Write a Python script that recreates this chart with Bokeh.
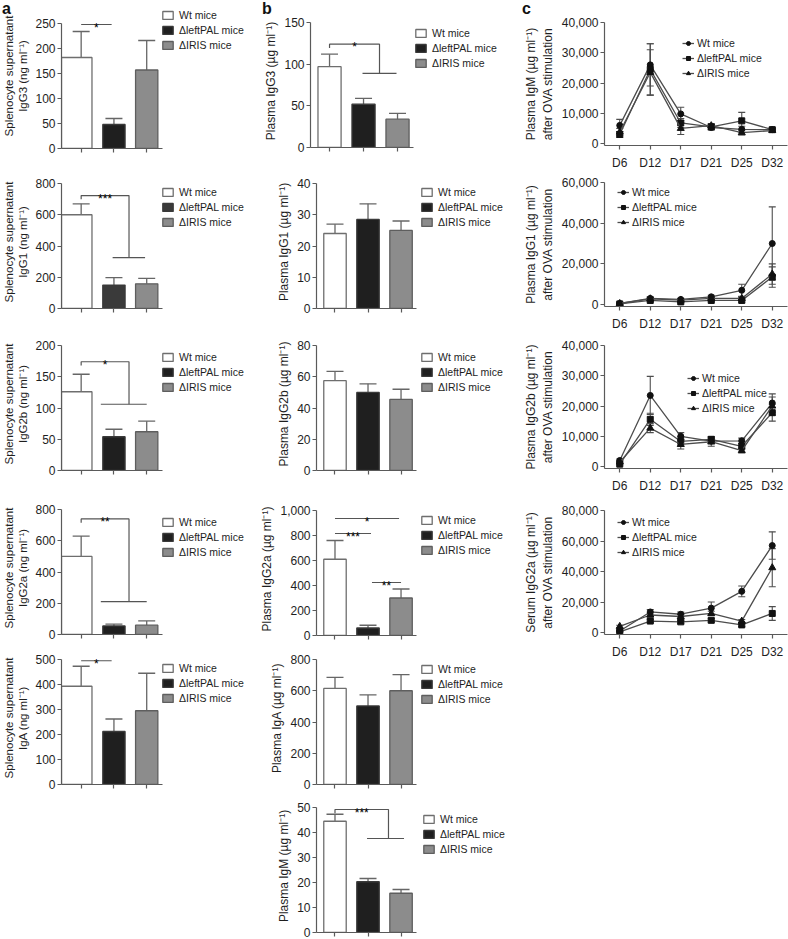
from bokeh.plotting import figure
from bokeh.layouts import column, row
from bokeh.models import (Legend, LegendItem, FixedTicker, Range1d, FactorRange, GridBox, Div,
                          NumeralTickFormatter, ColumnDataSource, Whisker, TeeHead)
from bokeh.embed import file_html
from bokeh.resources import INLINE
from bokeh.core.properties import value

FONT = "Liberation Sans"
TXT = "#1e1e1e"
AX = "#5a5a5a"
ERR = "#666666"
BR = "#555555"

groups = ["Wt mice", "\u0394leftPAL mice", "\u0394IRIS mice"]
days = ["D6", "D12", "D17", "D21", "D25", "D32"]

# ---------------- panel a : splenocyte supernatant (ng ml-1)
a_igg3_mean = [182, 48, 157]
a_igg3_err = [52, 12, 59]
a_igg1_mean = [600, 150, 158]
a_igg1_err = [70, 48, 35]
a_igg2b_mean = [126, 54, 62]
a_igg2b_err = [28, 12, 17]
a_igg2a_mean = [500, 55, 60]
a_igg2a_err = [130, 12, 27]
a_iga_mean = [393, 212, 295]
a_iga_err = [80, 50, 150]

# ---------------- panel b : plasma (ug ml-1)
b_igg3_mean = [97, 52, 34]
b_igg3_err = [15, 7, 7]
b_igg1_mean = [24, 28.5, 25]
b_igg1_err = [3, 5, 3]
b_igg2b_mean = [57.5, 50, 45.5]
b_igg2b_err = [6, 5.5, 6.5]
b_igg2a_mean = [610, 60, 300]
b_igg2a_err = [150, 22, 72]
b_iga_mean = [615, 503, 600]
b_iga_err = [70, 70, 103]
b_igm_mean = [44.5, 20.3, 15.7]
b_igm_err = [2.8, 1.3, 1.5]

# ---------------- panel c : time course after OVA stimulation
c_igm_wt = [6000, 26000, 9800, 5300, 4700, 4600]
c_igm_wt_err = [2000, 7000, 2200, 800, 1000, 500]
c_igm_lp = [3000, 24500, 6800, 5500, 7500, 4600]
c_igm_lp_err = [1000, 8500, 1500, 800, 2800, 600]
c_igm_ir = [3800, 23500, 5000, 5900, 3600, 4300]
c_igm_ir_err = [1200, 7500, 2000, 700, 800, 500]

c_igg1_wt = [500, 3000, 2500, 3800, 7000, 30000]
c_igg1_wt_err = [300, 800, 600, 800, 3000, 18000]
c_igg1_lp = [300, 2000, 1300, 2000, 2000, 13500]
c_igg1_lp_err = [200, 600, 500, 600, 800, 5000]
c_igg1_ir = [500, 2800, 2200, 3000, 3000, 15000]
c_igg1_ir_err = [200, 700, 600, 700, 900, 5000]

c_igg2b_wt = [2000, 23500, 10000, 8400, 8500, 21000]
c_igg2b_wt_err = [500, 6300, 1200, 900, 900, 3000]
c_igg2b_lp = [800, 15600, 8300, 9000, 6700, 17800]
c_igg2b_lp_err = [300, 2000, 1500, 900, 1000, 2800]
c_igg2b_ir = [1500, 12700, 7300, 8200, 5300, 20000]
c_igg2b_ir_err = [400, 1500, 1500, 1500, 800, 3000]

c_igg2a_wt = [1000, 13500, 12000, 16000, 27000, 57000]
c_igg2a_wt_err = [500, 1500, 1500, 4000, 3500, 9000]
c_igg2a_lp = [500, 7500, 7000, 8000, 5000, 12500]
c_igg2a_lp_err = [300, 1000, 1000, 1200, 1000, 4500]
c_igg2a_ir = [4000, 11500, 10500, 12500, 7500, 42500]
c_igg2a_ir_err = [800, 1500, 1500, 1500, 1000, 12500]

# ---------------- styling
BAR_FILL = ["#ffffff", "#1f1f1f", "#8c8c8c"]
BAR_LINE = ["#6e6e6e", "#3a3a3a", "#5e5e5e"]
FRAME_H = 125
C_FH = 124
MARKERS = ["circle", "square", "triangle"]
MSIZE = [6, 6, 7]


def style_axis(ax, size="12px"):
    ax.axis_line_color = AX
    ax.axis_line_width = 1.2
    ax.major_tick_line_color = AX
    ax.major_tick_line_width = 1.2
    ax.major_tick_out = 4
    ax.major_tick_in = 0
    ax.minor_tick_line_color = None
    ax.major_label_text_font = FONT
    ax.major_label_text_font_size = size
    ax.major_label_text_color = TXT
    ax.axis_label_text_font = FONT
    ax.axis_label_text_font_style = "normal"
    ax.axis_label_text_color = TXT


def draw_brackets(p, brackets, ymax):
    if not brackets:
        return
    drop = ymax * 0.03
    xs, ys, tx, ty, tt = [], [], [], [], []
    for b in brackets:
        if b[0] == "pair":
            _, x0, x1, y, t = b
            xs.append([x0, x1]); ys.append([y, y])
            tx.append((x0 + x1) / 2); ty.append(y); tt.append(t)
        else:
            _, ytop, xend, yg, g0, g1, t = b
            xs.append([0, 0, xend, xend]); ys.append([ytop - drop, ytop, ytop, yg])
            xs.append([g0, g1]); ys.append([yg, yg])
            tx.append(xend / 2); ty.append(ytop); tt.append(t)
    p.multi_line(xs=xs, ys=ys, line_color=BR, line_width=1.2)
    p.text(x=tx, y=ty, text=tt, text_align="center", text_baseline="alphabetic", y_offset=3,
           text_font=value(FONT), text_font_size="12px", text_color="#000000",
           text_font_style="normal")


def legend_for(p, items, lx, row1, glyph_w, standoff, frame_h):
    row_h, spacing = 13, 2
    total = 3 * row_h + 2 * spacing
    ly = frame_h - (row1 - row_h / 2) - total
    leg = Legend(items=items, location=(lx, ly), orientation="vertical",
                 glyph_width=glyph_w, glyph_height=10, label_height=row_h, label_standoff=standoff,
                 spacing=spacing, padding=0, margin=0, border_line_color=None,
                 background_fill_alpha=0, label_text_font=FONT, label_text_font_size="10.5px",
                 label_text_color=TXT)
    p.add_layout(leg)


def with_letter(p, letter, dx):
    d = Div(text=letter, margin=(0, 0, 0, dx), width=14, height=20,
            styles={"font-family": FONT, "font-weight": "bold", "font-size": "16px",
                    "color": "#111111", "line-height": "1.15"})
    return GridBox(children=[(p, 0, 0), (d, 0, 0)])


def bar_panel(means, errs, ymax, ystep, ylabel, width, left, height, axis_top, ext,
              legend_x, legend_row1, brackets, shifts, widths, label_size, xr,
              fills=BAR_FILL):
    ppu = 103 / (xr[1] - xr[0])
    frame_w = width - left
    y_end = ymax * (FRAME_H + ext) / FRAME_H
    p = figure(width=width, height=height,
               x_range=Range1d(xr[0], xr[0] + frame_w / ppu), y_range=Range1d(0, y_end),
               output_backend="svg", toolbar_location=None,
               min_border_left=left, min_border_right=0,
               min_border_top=axis_top - ext, min_border_bottom=height - axis_top - FRAME_H)
    p.grid.visible = False
    p.outline_line_color = None
    xs = [0, 1, 2]
    src = ColumnDataSource(dict(x=[xs[i] + shifts[i] for i in range(3)], w=widths, top=means,
                                fill=fills, line=BAR_LINE))
    r = p.vbar(x="x", width="w", top="top", bottom=0, fill_color="fill", line_color="line",
               line_width=1.3, source=src)
    esrc = ColumnDataSource(dict(x=xs, lo=means, hi=[m + e for m, e in zip(means, errs)]))
    p.add_layout(Whisker(base="x", lower="lo", upper="hi", source=esrc, dimension="height",
                         line_color=ERR, line_width=1.3, lower_head=None,
                         upper_head=TeeHead(size=17, line_color=ERR, line_width=1.3)))
    draw_brackets(p, brackets, ymax)
    style_axis(p.xaxis[0])
    style_axis(p.yaxis[0])
    p.xaxis.ticker = FixedTicker(ticks=xs)
    p.xaxis.bounds = (xr[0], xr[1])
    p.xaxis.major_label_text_font_size = "1px"
    p.xaxis.major_label_text_alpha = 0
    p.xaxis.major_label_standoff = 0
    p.yaxis.ticker = FixedTicker(ticks=list(range(0, ymax + 1, ystep)))
    p.yaxis.bounds = (0, ymax)
    p.yaxis.formatter = NumeralTickFormatter(format="0,0")
    p.yaxis.major_label_standoff = 2
    p.yaxis.axis_label = ylabel
    p.yaxis.axis_label_standoff = 3
    p.yaxis.axis_label_text_font_size = label_size
    items = [LegendItem(label=groups[i], renderers=[r], index=i) for i in range(3)]
    legend_for(p, items, legend_x, legend_row1, 13, 5, FRAME_H)
    return p


def line_panel(series, errs, ymax, ystep, ylabel, height, axis_top, legend_x, legend_row1):
    width, left, right = 268, 77, 1
    ext_b = ymax * 2 / C_FH
    p = figure(width=width, height=height, x_range=FactorRange(*days),
               y_range=Range1d(-ext_b, ymax), output_backend="svg", toolbar_location=None,
               min_border_left=left, min_border_right=right, min_border_top=axis_top,
               min_border_bottom=height - axis_top - C_FH)
    p.grid.visible = False
    p.outline_line_color = None
    items = []
    for k in range(3):
        vals, ers = series[k], errs[k]
        l = p.line(x=days, y=vals, line_color="#4d4d4d", line_width=1.3)
        s = p.scatter(x=days, y=vals, marker=MARKERS[k], size=MSIZE[k], fill_color="#111111",
                      line_color="#111111")
        src = ColumnDataSource(dict(x=days, lo=[max(v - e, 0) for v, e in zip(vals, ers)],
                                    hi=[v + e for v, e in zip(vals, ers)]))
        p.add_layout(Whisker(base="x", lower="lo", upper="hi", source=src, dimension="height",
                             line_color="#4d4d4d", line_width=1.1,
                             upper_head=TeeHead(size=7, line_color="#4d4d4d", line_width=1.1),
                             lower_head=TeeHead(size=7, line_color="#4d4d4d", line_width=1.1)))
        items.append(LegendItem(label=groups[k], renderers=[l, s]))
    style_axis(p.xaxis[0])
    style_axis(p.yaxis[0])
    p.xaxis.major_label_standoff = 6
    p.yaxis.ticker = FixedTicker(ticks=list(range(0, ymax + 1, ystep)))
    p.yaxis.bounds = (-ext_b, ymax)
    p.yaxis.formatter = NumeralTickFormatter(format="0,0")
    p.yaxis.major_label_standoff = 2
    p.yaxis.axis_label = ylabel
    p.yaxis.axis_label_standoff = 4
    p.yaxis.axis_label_text_font_size = "12px"
    legend_for(p, items, legend_x, legend_row1, 12, 3, C_FH)
    return p


SUP = " (ng ml\u207b\u00b9)"
USUP = " (\u00b5g ml\u207b\u00b9)"

# ---- column a
A_W, A_L = 257, 57
A_XR = (-0.6, 2.48)
a_shift = [-0.135, 0, 0]
a_width = [0.93, 0.68, 0.68]
col_a = column(
    with_letter(bar_panel(a_igg3_mean, a_igg3_err, 250, 50, "Splenocyte supernatant\nIgG3" + SUP,
                          A_W, A_L, 165, 23, 20, 100, -8, [("pair", 0, 0.93, 248, "*")],
                          a_shift, a_width, "11.5px", A_XR), "a", 2),
    bar_panel(a_igg1_mean, a_igg1_err, 800, 200, "Splenocyte supernatant\nIgG1" + SUP,
              A_W, A_L, 160, 18, 8, 100, 9, [("group", 723, 1.46, 326, 0.96, 1.95, "***")],
              a_shift, a_width, "11.5px", A_XR, fills=["#ffffff", "#3a3a3a", "#8c8c8c"]),
    bar_panel(a_igg2b_mean, a_igg2b_err, 200, 50, "Splenocyte supernatant\nIgG2b" + SUP,
              A_W, A_L, 162, 20, 8, 100, 12, [("group", 174, 1.46, 106, 0.6, 2.0, "*")],
              a_shift, a_width, "11.5px", A_XR),
    bar_panel(a_igg2a_mean, a_igg2a_err, 800, 200, "Splenocyte supernatant\nIgG2a" + SUP,
              A_W, A_L, 157, 22, 8, 100, 13, [("group", 740, 1.46, 211, 0.6, 2.0, "**")],
              a_shift, a_width, "11.5px", A_XR),
    bar_panel(a_iga_mean, a_iga_err, 500, 100, "Splenocyte supernatant\nIgA" + SUP,
              A_W, A_L, 156, 15, 8, 100, 9, [("pair", 0, 0.93, 495, "*")],
              a_shift, a_width, "11.5px", A_XR),
)

# ---- column b
B_W, B_L = 263, 53
B_XR = (-0.56, 2.47)
b_shift = [0, 0, 0]
b_width = [0.68, 0.68, 0.68]
col_b = column(
    with_letter(bar_panel(b_igg3_mean, b_igg3_err, 150, 50, "Plasma IgG3" + USUP,
                          B_W, B_L, 165, 22, 8, 104, 11,
                          [("group", 124, 1.47, 89, 0.97, 1.97, "*")],
                          b_shift, b_width, "12px", B_XR), "b", 5),
    bar_panel(b_igg1_mean, b_igg1_err, 40, 10, "Plasma IgG1" + USUP,
              B_W, B_L, 160, 18, 8, 104, 9, [], b_shift, b_width, "12px", B_XR),
    bar_panel(b_igg2b_mean, b_igg2b_err, 80, 20, "Plasma IgG2b" + USUP,
              B_W, B_L, 162, 20, 8, 104, 12, [], b_shift, b_width, "12px", B_XR),
    bar_panel(b_igg2a_mean, b_igg2a_err, 1000, 200, "Plasma IgG2a" + USUP,
              B_W, B_L, 158, 23, 8, 104, 10,
              [("pair", 0, 1.94, 936, "*"), ("pair", 0, 1.09, 816, "***"),
               ("pair", 1.12, 2.0, 424, "**")], b_shift, b_width, "12px", B_XR),
    bar_panel(b_iga_mean, b_iga_err, 800, 200, "Plasma IgA" + USUP,
              B_W, B_L, 150, 14, 8, 104, 10, [], b_shift, b_width, "12px", B_XR),
    bar_panel(b_igm_mean, b_igm_err, 50, 10, "Plasma IgM" + USUP,
              B_W, B_L, 144, 12, 8, 106, 12, [("group", 49.2, 1.62, 37.6, 0.97, 2.09, "***")],
              b_shift, b_width, "12px", B_XR),
)

# ---- column c
AFTER = "\nafter OVA stimulation"
col_c = column(
    with_letter(line_panel([c_igm_wt, c_igm_lp, c_igm_ir], [c_igm_wt_err, c_igm_lp_err, c_igm_ir_err],
                           40000, 10000, "Plasma IgM" + USUP + AFTER, 172, 22, 78, 22), "c", 2),
    line_panel([c_igg1_wt, c_igg1_lp, c_igg1_ir], [c_igg1_wt_err, c_igg1_lp_err, c_igg1_ir_err],
               60000, 20000, "Plasma IgG1" + USUP + AFTER, 161, 10, 13, 10),
    line_panel([c_igg2b_wt, c_igg2b_lp, c_igg2b_ir], [c_igg2b_wt_err, c_igg2b_lp_err, c_igg2b_ir_err],
               40000, 10000, "Plasma IgG2b" + USUP + AFTER, 162, 12, 83, 34),
    line_panel([c_igg2a_wt, c_igg2a_lp, c_igg2a_ir], [c_igg2a_wt_err, c_igg2a_lp_err, c_igg2a_ir_err],
               80000, 20000, "Serum IgG2a" + USUP + AFTER, 205, 15, 13, 12),
)

layout = row(col_a, col_b, col_c)
open("out.html", "w").write(file_html(layout, INLINE))
